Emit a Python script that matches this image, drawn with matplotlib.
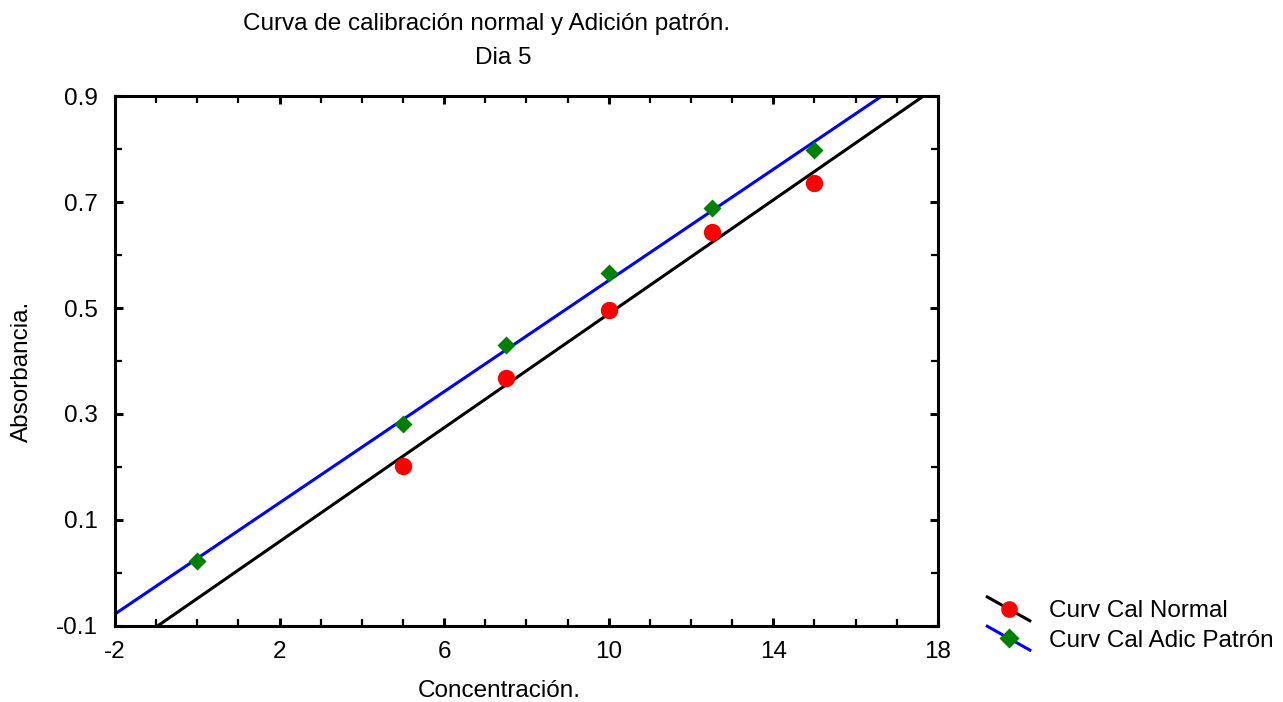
import numpy as np
import matplotlib
matplotlib.use("Agg")
import matplotlib.pyplot as plt
from matplotlib.lines import Line2D
from matplotlib.legend_handler import HandlerLine2D
from matplotlib.ticker import MultipleLocator

plt.rcParams['font.family'] = ['Liberation Sans', 'DejaVu Sans']

# Curva de calibración normal
conc_normal = [5, 7.5, 10, 12.5, 15]
abs_normal = [0.202, 0.368, 0.496, 0.643, 0.736]

# Curva por adición patrón
conc_adic = [0, 5, 7.5, 10, 12.5, 15]
abs_adic = [0.023, 0.281, 0.430, 0.566, 0.689, 0.798]

labels = ["Curv Cal Normal", "Curv Cal Adic Patrón"]
x_ticks = [-2, 2, 6, 10, 14, 18]
y_ticks = [-0.1, 0.1, 0.3, 0.5, 0.7, 0.9]

FS = 17.5
W, H = 1283, 702

fig = plt.figure(figsize=(W / 100, H / 100), dpi=100)
ax = fig.add_axes([0.0896, 0.1083, 0.6414, 0.7549])

xs = np.array([-2, 18])
m_n, b_n = np.polyfit(conc_normal, abs_normal, 1)
m_a, b_a = np.polyfit(conc_adic, abs_adic, 1)

ax.plot(xs, m_n * xs + b_n, color='black', lw=2.2, zorder=2)
ax.plot(xs, m_a * xs + b_a, color='blue', lw=2.2, zorder=2)
ax.plot(conc_normal, abs_normal, 'o', color='red', ms=12.5, mec='none', zorder=3)
ax.plot(conc_adic, abs_adic, 'D', color='green', ms=9, mec='none', zorder=3)

ax.set_xlim(-2, 18)
ax.set_ylim(-0.1, 0.9)
ax.set_xticks(x_ticks)
ax.set_yticks(y_ticks)
ax.set_xticklabels([str(t) for t in x_ticks])
ax.set_yticklabels([f"{t:.1f}" for t in y_ticks])
ax.xaxis.set_minor_locator(MultipleLocator(1))
ax.yaxis.set_minor_locator(MultipleLocator(0.1))
ax.tick_params(which='both', direction='in', top=True, right=True,
               labelsize=FS)
ax.tick_params(axis='x', which='major', pad=11)
ax.tick_params(axis='y', which='major', pad=12)
ax.tick_params(which='major', length=6, width=2.2)
ax.tick_params(which='minor', length=5, width=1.6)
for s in ax.spines.values():
    s.set_linewidth(2.2)

# Axis titles and chart title
fig.text(499.5 / W, 1 - 697 / H, "Concentración.", ha='center', va='baseline',
         fontsize=FS)
fig.text(22 / W, 1 - 371 / H, "Absorbancia.", ha='center', va='center',
         rotation=90, fontsize=FS)
fig.text(487 / W, 1 - 24 / H, "Curva de calibración normal y Adición patrón.",
         ha='center', va='center', fontsize=FS)
fig.text(503 / W, 1 - 58 / H, "Dia 5", ha='center', va='center', fontsize=FS)


class DiagonalHandler(HandlerLine2D):
    def create_artists(self, legend, orig_handle, xdescent, ydescent,
                       width, height, fontsize, trans):
        x0, x1 = -xdescent, -xdescent + width
        y0, y1 = -ydescent + height * 1.2, -ydescent - height * 0.2
        line = Line2D([x0, x1], [y0, y1], color=orig_handle.get_color(),
                      lw=orig_handle.get_linewidth(), transform=trans)
        mk = Line2D([(x0 + x1) / 2], [(y0 + y1) / 2],
                    marker=orig_handle.get_marker(), ms=orig_handle.get_markersize(),
                    color=orig_handle.get_markerfacecolor(), mec='none',
                    ls='none', transform=trans)
        return [line, mk]


h1 = Line2D([], [], color='black', lw=2.2, marker='o', ms=12, mfc='red')
h2 = Line2D([], [], color='blue', lw=2.2, marker='D', ms=10, mfc='green')
fig.legend([h1, h2], labels, loc='center left',
           bbox_to_anchor=(980 / W, 1 - 626 / H),
           frameon=False, fontsize=FS, handlelength=1.75, handletextpad=0.8,
           labelspacing=0.3, borderpad=0.3, borderaxespad=0,
           handler_map={Line2D: DiagonalHandler()})

fig.savefig("out.png", dpi=100)
